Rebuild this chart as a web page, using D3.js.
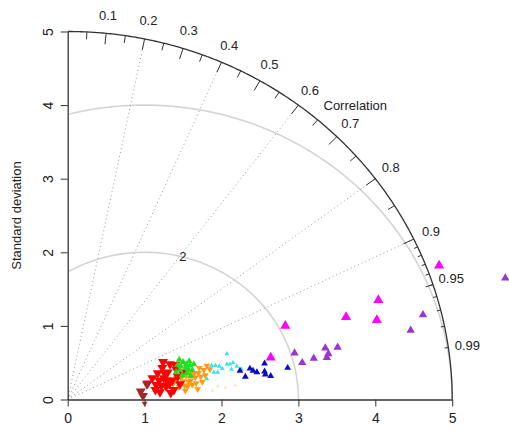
<!DOCTYPE html>
<html><head><meta charset="utf-8">
<script src="https://cdn.jsdelivr.net/npm/d3@7"></script>
<style>body{margin:0;background:#fff} text{font-family:"Liberation Sans",Arial,sans-serif;fill:#222}</style>
</head><body><svg id="c" width="509" height="434"></svg>
<script>
// ---- data ----
const sdTicks = [0, 1, 2, 3, 4, 5];
const corrLabels = [0.1, 0.2, 0.3, 0.4, 0.5, 0.6, 0.7, 0.8, 0.9, 0.95, 0.99];
const corrBigTicks = [0.1, 0.2, 0.3, 0.4, 0.5, 0.6, 0.7, 0.8, 0.9];
const corrMedTicks = [0.05, 0.15, 0.25, 0.35, 0.45, 0.55, 0.65, 0.75, 0.85, 0.95];
const corrSmallTicks = [0.91, 0.92, 0.93, 0.94, 0.95, 0.96, 0.97, 0.98, 0.99];
const corrLines = [0.2, 0.4, 0.6, 0.8, 0.9];
const gammaRadii = [2, 4];
const refSD = 1;
const maxSD = 5;

// points as [sd*cor, sd*sqrt(1-cor^2)]
const orangePts = [[1.37,0.21],[1.41,0.29],[1.45,0.17],[1.50,0.25],[1.54,0.32],[1.56,0.18],[1.60,0.26],[1.64,0.35],[1.67,0.22],[1.71,0.43],[1.73,0.31],[1.77,0.40],[1.81,0.46],[1.79,0.33],[1.59,0.37],[1.69,0.14],[1.53,0.12],[1.85,0.41],[1.48,0.30],[1.62,0.20],[1.66,0.30],[1.75,0.24],[1.70,0.36],[1.57,0.24],[1.52,0.19]];
const redPts = [[1.04,0.22],[1.10,0.29],[1.15,0.20],[1.17,0.36],[1.20,0.10],[1.23,0.43],[1.25,0.29],[1.28,0.18],[1.30,0.37],[1.33,0.48],[1.36,0.26],[1.38,0.13],[1.41,0.41],[1.43,0.31],[1.46,0.21],[1.49,0.37],[1.24,0.51],[1.34,0.09],[1.14,0.13],[1.29,0.26],[1.40,0.47],[1.19,0.26],[1.27,0.34],[1.32,0.21],[1.22,0.19]];
const greenPts = [[1.41,0.37],[1.43,0.47],[1.46,0.40],[1.50,0.51],[1.53,0.43],[1.55,0.36],[1.58,0.52],[1.59,0.46],[1.62,0.40],[1.64,0.48],[1.49,0.33],[1.54,0.48],[1.45,0.54],[1.60,0.32],[1.47,0.45],[1.57,0.41]];
const cyanPts = [[2.07,0.62],[1.87,0.46],[1.92,0.46],[1.97,0.45],[2.01,0.42],[2.07,0.48],[2.11,0.48],[2.15,0.50],[2.20,0.45],[2.26,0.41],[1.81,0.28],[1.90,0.37],[1.95,0.37],[2.13,0.41]];
const bluePts = [[2.24,0.39],[2.31,0.31],[2.37,0.42],[2.41,0.39],[2.46,0.37],[2.56,0.49],[2.56,0.38],[2.57,0.34],[2.64,0.32],[2.86,0.43]];
const purplePts = [[2.95,0.63],[3.05,0.50],[3.20,0.56],[3.35,0.70],[3.39,0.62],[3.37,0.57],[3.51,0.71],[4.62,1.15],[4.46,0.94],[5.69,1.65]];
const magentaPts = [[4.83,1.82],[4.04,1.35],[3.62,1.12],[4.02,1.08],[2.83,1.00],[2.64,0.57]];
const brownPts = [[1.03,0.21],[0.95,0.11],[0.98,0.05]];
const fadedPts = [[1.95,0.18],[2.05,0.16],[2.18,0.19],[1.88,0.12]];

// ---- styles ----
const series = [
  {pts: fadedPts,  color: "#fbe3c0", size: 6,  dir: "up"},
  {pts: orangePts, color: "#ff9a10", size: 20, dir: "down"},
  {pts: redPts,    color: "#ff0000", size: 42, dir: "down"},
  {pts: greenPts,  color: "#1fe01f", size: 20, dir: "up"},
  {pts: cyanPts,   color: "#30e8ec", size: 10, dir: "up"},
  {pts: bluePts,   color: "#0a0acd", size: 20, dir: "up"},
  {pts: purplePts, color: "#9a35d0", size: 30, dir: "up"},
  {pts: magentaPts,color: "#ff00ff", size: 44, dir: "up"},
  {pts: brownPts,  color: "#a02828", size: 42, dir: "down"}
];

const svg = d3.select("#c");
const x = d3.scaleLinear().domain([0, 5]).range([67.7, 452.2]);
const y = d3.scaleLinear().domain([0, 5]).range([399.5, 31.5]);
const polar = (r, th) => [x(r * Math.cos(th)), y(r * Math.sin(th))];
const line = d3.line();

// gamma arcs
gammaRadii.forEach(g => {
  const pts = [];
  for (let th = 0; th <= Math.PI; th += 0.01) {
    const px = refSD + g * Math.cos(th), py = g * Math.sin(th);
    if (px < 0 || px*px + py*py > maxSD*maxSD) continue;
    pts.push([x(px), y(py)]);
  }
  svg.append("path").attr("d", line(pts)).attr("fill", "none")
    .attr("stroke", "#d4d4d4").attr("stroke-width", 1.6);
});
// gamma label
{
  const th = 1.32, g = gammaRadii[0];
  svg.append("text").attr("x", x(refSD + g*Math.cos(th))).attr("y", y(g*Math.sin(th)))
    .attr("text-anchor", "middle").attr("dy", "0.35em").attr("font-size", 13).text(g);
}

// radial correlation lines
corrLines.forEach(c => {
  const th = Math.acos(c);
  svg.append("path").attr("d", line([polar(0, th), polar(maxSD, th)]))
    .attr("stroke", "#9a9a9a").attr("stroke-width", 1).attr("stroke-dasharray", "1,3").attr("fill", "none");
});

// outer arc
{
  const pts = d3.range(0, Math.PI/2 + 0.001, 0.005).map(t => polar(maxSD, t));
  pts.push(polar(maxSD, Math.PI/2));
  svg.append("path").attr("d", line(pts)).attr("fill", "none").attr("stroke", "#333").attr("stroke-width", 1.3);
}
// correlation ticks
[[corrBigTicks, 0.97], [corrMedTicks, 0.98], [corrSmallTicks, 0.99]].forEach(([arr, f]) => {
  arr.forEach(c => {
    const th = Math.acos(c);
    svg.append("path").attr("d", line([polar(maxSD, th), polar(maxSD*f, th)]))
      .attr("stroke", "#333").attr("stroke-width", 1);
  });
});
corrLabels.forEach(c => {
  const th = Math.acos(c);
  const [px, py] = polar(maxSD*1.05, th);
  svg.append("text").attr("x", px).attr("y", py).attr("text-anchor", "middle")
    .attr("dy", "0.35em").attr("font-size", 13).text(c);
});
svg.append("text").attr("x", x(3.74)).attr("y", y(3.99)).attr("text-anchor", "middle")
  .attr("dy", "0.35em").attr("font-size", 13).text("Correlation");

// axes
const ax = svg.append("g").attr("transform", `translate(0,${y(0)})`)
  .call(d3.axisBottom(x).tickValues(sdTicks).tickFormat(d3.format("d")).tickSize(7).tickSizeOuter(0));
ax.select(".domain").attr("stroke", "#333").attr("stroke-width", 1.3);
ax.selectAll(".tick line").attr("stroke", "#333");
ax.selectAll(".tick text").attr("font-size", 14).attr("y", 14).attr("fill", "#222")
  .attr("font-family", "Liberation Sans, Arial, sans-serif");

const ay = svg.append("g").attr("transform", `translate(${x(0)},0)`)
  .call(d3.axisLeft(y).tickValues(sdTicks).tickFormat(d3.format("d")).tickSize(7).tickSizeOuter(0));
ay.select(".domain").attr("stroke", "#333").attr("stroke-width", 1.3);
ay.selectAll(".tick line").attr("stroke", "#333");
ay.selectAll(".tick text").attr("font-size", 14).attr("fill", "#222")
  .attr("font-family", "Liberation Sans, Arial, sans-serif")
  .attr("x", 0).attr("text-anchor", "middle")
  .attr("transform", "translate(-20,0) rotate(-90)").attr("dy", "0.35em");

svg.append("text").attr("transform", `translate(16,${y(2.5)}) rotate(-90)`)
  .attr("text-anchor", "middle").attr("dy", "0.35em").attr("font-size", 13).text("Standard deviation");

// points
const sym = d3.symbol().type(d3.symbolTriangle);
series.forEach(s => {
  svg.append("g").selectAll("path").data(s.pts).join("path")
    .attr("d", sym.size(s.size)())
    .attr("transform", d => `translate(${x(d[0])},${y(d[1])})` + (s.dir === "down" ? " rotate(180)" : ""))
    .attr("fill", s.color);
});
// reference marker
svg.append("path").attr("d", d3.symbol().type(d3.symbolTriangle).size(14)())
  .attr("transform", `translate(${x(refSD)},${y(0) + 4}) rotate(180)`).attr("fill", "#a02828");
</script></body></html>
